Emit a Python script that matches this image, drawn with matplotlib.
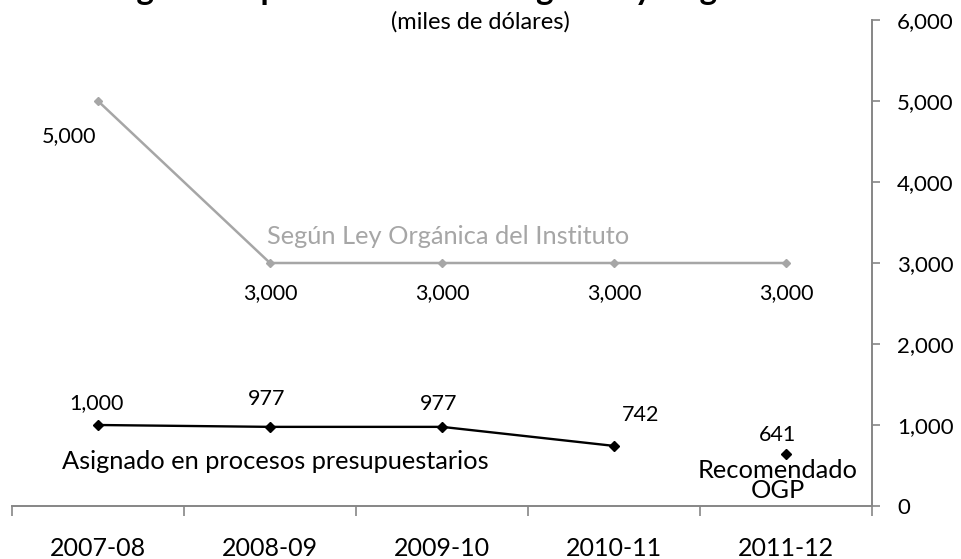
import matplotlib
matplotlib.use("Agg")
import matplotlib.pyplot as plt

plt.rcParams['font.family'] = ['Lato', 'DejaVu Sans']

# ---- data ----
categories = ["2007-08", "2008-09", "2009-10", "2010-11", "2011-12"]
ley_organica = [5000, 3000, 3000, 3000, 3000]
asignado = [1000, 977, 977, 742]
recomendado_ogp = [641]
y_ticks = [0, 1000, 2000, 3000, 4000, 5000, 6000]

title_text = "Asignación para el Instituto según Ley Orgánica"
subtitle_text = "(miles de dólares)"

W, H = 961, 559
fig = plt.figure(figsize=(W / 100, H / 100), dpi=100)
ax = fig.add_axes([12 / W, (H - 506) / H, 860 / W, 486 / H])

GRAY = "#a6a6a6"
AXC = "#868686"
FS = 15.5      # data labels
FS_Y = 16      # y tick labels
FS_X = 18      # category labels
FS_S = 18.3    # series labels

xs = list(range(len(categories)))
ax.plot(xs, ley_organica, color=GRAY, lw=1.8, marker="D", ms=4.5,
        mfc=GRAY, mec=GRAY)
ax.plot(xs[:len(asignado)], asignado, color="black", lw=1.7, marker="D",
        ms=5, mfc="black", mec="black")
ax.plot([xs[4]], recomendado_ogp, ls="none", color="black", marker="D",
        ms=5, mfc="black", mec="black")

ax.set_xlim(-0.5, len(categories) - 0.5)
ax.set_ylim(0, 6000)


def fmt(v):
    return f"{v:,}"


pt = 0.72
ax.annotate(fmt(ley_organica[0]), (xs[0], ley_organica[0]),
            xytext=(-29 * pt, -35 * pt), textcoords="offset points",
            ha="center", va="center", fontsize=FS)
for i in range(1, len(ley_organica)):
    ax.annotate(fmt(ley_organica[i]), (xs[i], ley_organica[i]),
                xytext=(0, -30 * pt), textcoords="offset points",
                ha="center", va="center", fontsize=FS)

asig_off = [(-2, 22), (-3, 28), (-3, 23), (27, 31)]
for i, v in enumerate(asignado):
    dx, dy = asig_off[i]
    ax.annotate(fmt(v), (xs[i], v), xytext=(dx * pt, dy * pt),
                textcoords="offset points", ha="center", va="center",
                fontsize=FS)
ax.annotate(fmt(recomendado_ogp[0]), (xs[4], recomendado_ogp[0]),
            xytext=(-9 * pt, 19 * pt), textcoords="offset points",
            ha="center", va="center", fontsize=FS)

# series labels
ax.annotate("Según Ley Orgánica del Instituto", (2, 3000),
            xytext=(6 * pt, 27 * pt), textcoords="offset points",
            ha="center", va="center", fontsize=FS_S, color=GRAY)
ax.annotate("Asignado en procesos presupuestarios", (1, 977),
            xytext=(5 * pt, -35 * pt), textcoords="offset points",
            ha="center", va="center", fontsize=FS_S)
ax.annotate("Recomendado\nOGP", (xs[4], recomendado_ogp[0]),
            xytext=(-8 * pt, -26 * pt), textcoords="offset points",
            ha="center", va="center", fontsize=FS_S, linespacing=0.85)

# axes styling
for s in ("left", "top"):
    ax.spines[s].set_visible(False)
for s in ("bottom", "right"):
    ax.spines[s].set_color(AXC)
    ax.spines[s].set_linewidth(1.4)

ax.yaxis.tick_right()
ax.set_yticks(y_ticks)
ax.set_yticklabels([fmt(v) for v in y_ticks])
ax.tick_params(axis="y", direction="out", length=6, width=1.2, color=AXC,
               pad=12, labelsize=FS_Y)

ax.set_xticks([i - 0.5 for i in range(len(categories) + 1)])
ax.set_xticklabels([])
ax.set_xticks(xs, minor=True)
ax.set_xticklabels(categories, minor=True)
ax.tick_params(axis="x", which="major", direction="out", length=7, width=1.2,
               color=AXC)
ax.tick_params(axis="x", which="minor", length=0, pad=22, labelsize=FS_X)

# titles (the title is clipped at the top edge in the reference:
# only the descenders of its letters are visible)
fig.text(442 / W, 1 - 5 / H, title_text, ha="center", va="bottom",
         fontsize=24, fontweight="bold")
fig.text(480 / W, 1 - 22 / H, subtitle_text, ha="center", va="center",
         fontsize=17)

fig.savefig("out.png", dpi=100)
